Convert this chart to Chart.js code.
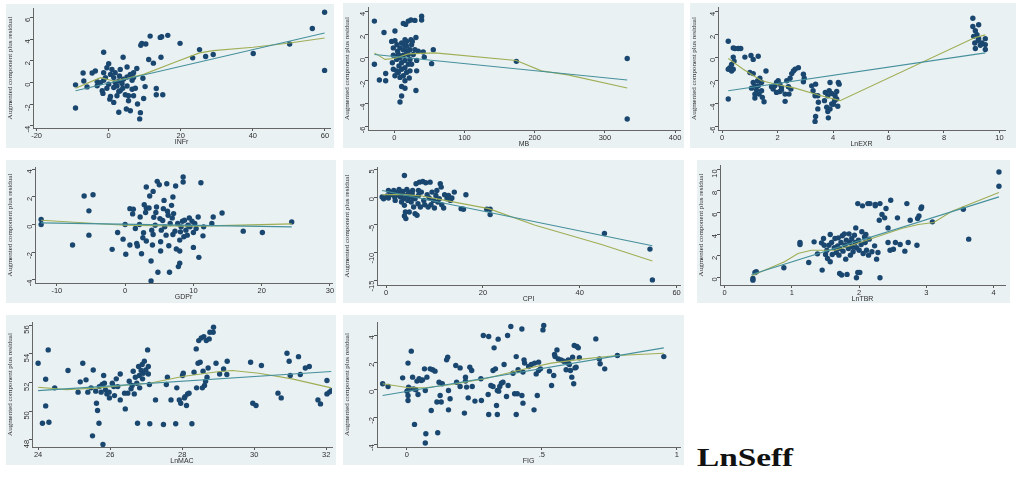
<!DOCTYPE html>
<html>
<head>
<meta charset="utf-8">
<script src="https://cdn.jsdelivr.net/npm/chart.js@4.4.1/dist/chart.umd.min.js"></script>
<style>
  body { margin: 0; background: #fff; width: 1019px; height: 477px; position: relative; overflow: hidden; }
  .panel { position: absolute; background: #eaf1f3; }
  .panel canvas { position: absolute; left: 0; top: 0; }
  #seff { position: absolute; left: 697px; top: 443px; font: bold 26px "Liberation Serif", "Times New Roman", serif; color: #111; transform: scaleX(1.28); transform-origin: left top; }
</style>
</head>
<body>
<div id="seff">LnSeff</div>
<script>
// ---- data ----
const infrXTicks = [-20, 0, 20, 40, 60];
const infrYTicks = [-4, -2, 0, 2, 4, 6];
const infrPoints = [
  [59.9, 6.5], [56.5, 5.0], [50.2, 3.57], [59.9, 1.13], [40.1, 2.69], [25.2, 3.05], [23.3, 2.29], [26.9, 2.41],
  [29, 2.6], [19.8, 3.63], [16.4, 4.37], [14.7, 4.24], [14.3, 4.18], [11.5, 4.3], [9.2, 3.63], [10.3, 3.57],
  [8.9, 3.45], [14.5, 2.35], [11.1, 2.14], [12.4, 1.8], [4.0, 2.35], [-1.4, 2.81], [0, 1.74], [-3.7, 1.07],
  [-7.1, 0.89], [-4.6, 0.89], [-6.9, 0.15], [-9.2, -0.21], [-9.2, -2.35], [-6, -0.4], [-3.2, 0.09], [-2.3, 0],
  [-1.8, -0.76], [-1.6, -1.0], [-0.5, -0.52], [0.5, -1.28], [0.3, -1.53], [1.4, -1.83], [2.8, -2.75], [4.9, -2.44],
  [6, -2.6], [8.6, -3.36], [8.8, -2.78], [8, -1.98], [9.7, -1.47], [13.2, -1.13], [15, -1.13], [13.2, -0.55],
  [10.1, -0.37], [9.5, 0.4], [7.8, 1.31], [6.9, 0.92], [5.1, 1.44], [3.2, 1.22], [0.9, 1.22], [-0.5, 1.37],
  [-1.4, 0.92], [-0.9, 0.46], [1.4, 0.46], [2.8, 0.15], [3.7, -0.09], [4.1, 0.31], [1.8, 0], [2.3, -0.31],
  [5.1, -0.31], [6.5, -0.61], [7.4, -0.52], [3.2, -0.76], [4.6, -1.13], [5.5, -1.22], [2.3, -1.22], [6.9, -1.22],
  [3.9, -0.52], [0.5, 0.76], [1.8, 0.92], [6, 0.76], [6.9, 0.46], [5.1, 0.52], [3.0, 0.61], [1.4, -0.46],
  [0, -0.15], [-1.4, 0.21], [-3.2, -0.3], [2.8, -0.82], [5.5, -1.68], [6.5, 0.21]
];
const infrFit = [[-9.2, -0.76], [59.9, 4.58]];
const infrLowess = [[-9.2, -0.52], [-2.3, 0.46], [1.4, 0.15], [5.1, 0.4], [9.7, 0.76], [18, 1.83], [25.2, 2.75],
  [29, 2.96], [40.1, 3.27], [50.2, 3.66], [59.9, 4.12]];

const mbXTicks = [0, 100, 200, 300, 400];
const mbYTicks = [-6, -4, -2, 0, 2, 4];
const mbPoints = [
  [-28.4, 3.2], [-28.4, -0.57], [-21.3, -1.94], [-12.3, -1.37], [-12.3, -2.0], [-14.7, 2.2], [0.9, 2.34], [12.8, 3.0],
  [16.1, 2.91], [19.9, 3.2], [23.7, 3.29], [29.4, 3.26], [38.9, 3.63], [38.9, 3.29], [30.8, 1.77], [23.7, 1.57],
  [55.5, 0.71], [41.2, 0.51], [42.7, 0.06], [53.1, -0.51], [31.8, -0.23], [31.8, -1.14], [30.8, -2.86], [15.2, -2.66],
  [10.4, -2.51], [10.4, -3.34], [8.1, -3.86], [173.9, -0.31], [331.8, -0.06], [331.8, -5.34], [-3.8, 1.43], [0.9, 1.49],
  [-1.4, 0.86], [-1.4, 0.23], [-2.8, -0.43], [-1.4, -1.0], [0.9, -1.57], [8.1, -1.71], [5.7, -1.29], [6.6, -0.71],
  [10.4, -0.43], [15.2, -0.86], [17.5, -1.29], [22.3, -1.14], [24.6, -0.57], [22.3, -0.14], [27, 0.29], [29.4, 0.71],
  [34.1, 0.57], [24.6, 1.14], [17.5, 1.43], [15.2, 1.57], [10.4, 1.29], [8.1, 0.86], [12.8, 0.71], [17.5, 0.57],
  [19.9, 0.29], [12.8, 0.23], [5.7, 0.29], [3.3, -0.14], [15.2, -0.23], [19.9, -0.57], [10.4, -1.0], [3.3, -1.14],
  [17.5, 1.0], [22.3, 0.71], [8.1, 0], [15.2, -2.0], [21.3, -1.77], [12.8, -1.57], [4.7, 0.57], [25.6, 1.43],
  [14.2, 1.14], [3.8, 1.14]
];
const mbFit = [[-28.4, 0.29], [331.8, -1.94]];
const mbLowess = [[-28.4, 0.43], [-13.3, -0.14], [0, -0.06], [19.9, 0.34], [57.8, 0.43], [173.9, -0.23],
  [209.5, -1.14], [247.4, -1.49], [331.8, -2.63]];

const lnexrXTicks = [0, 2, 4, 6, 8, 10];
const lnexrYTicks = [-6, -4, -2, 0, 2, 4];
const lnexrPoints = [
  [0.22, 1.44], [0.22, -3.6], [0.4, 0.86], [0.46, 0.81], [0.58, 0.81], [0.67, 0.81], [0.4, 0.06], [0.43, -0.29],
  [0.34, -0.58], [0.28, -0.86], [0.34, -1.15], [0.22, -1.0], [0.4, -1.0], [0.82, 0.06], [1.04, 0.2], [1.12, -0.14],
  [1.3, 0.14], [1.0, -1.29], [1.12, -1.38], [1.58, -1.15], [1.36, -1.78], [1.12, -2.16], [1.18, -2.45], [1.24, -2.82],
  [1.18, -3.17], [1.18, -3.51], [1.33, -3.17], [1.42, -2.88], [1.45, -3.45], [1.51, -3.83], [1.3, -2.45], [1.42, -2.16],
  [1.28, -2.01], [1.06, -2.65], [1.84, -2.73], [1.9, -2.45], [1.96, -2.16], [2.02, -2.01], [2.08, -2.3], [2.14, -2.59],
  [2.08, -2.94], [1.96, -3.02], [2.27, -3.17], [2.27, -3.8], [2.39, -2.53], [2.48, -2.73], [2.41, -3.17], [2.33, -2.01],
  [2.45, -1.78], [2.51, -1.38], [2.57, -1.15], [2.63, -1.0], [2.75, -0.86], [2.93, -1.44], [2.96, -1.78], [2.93, -2.1],
  [1.78, -2.53], [2.14, -2.82], [3.23, -2.45], [3.37, -2.3], [3.28, -2.88], [3.35, -3.31], [3.45, -3.31], [3.47, -3.88],
  [3.45, -4.46], [3.37, -5.12], [3.35, -5.55], [3.69, -3.74], [3.77, -4.32], [3.81, -4.69], [3.83, -5.24], [3.89, -4.46],
  [3.95, -4.03], [3.81, -3.31], [3.86, -2.88], [3.95, -3.11], [4.07, -3.31], [4.13, -3.6], [4.17, -4.23], [4.01, -4.06],
  [3.89, -2.16], [4.19, -2.16], [4.22, -2.3], [4.13, -2.94], [3.72, -3.02], [4.05, -3.74], [9.04, 3.45], [9.25, 2.88],
  [9.04, 2.73], [9.13, 2.36], [9.19, 2.01], [9.07, 1.87], [9.25, 1.67], [9.11, 1.29], [9.37, 1.29], [9.49, 1.67],
  [9.31, 1.09], [9.13, 0.81], [9.49, 1.15], [9.49, 0.72], [9.23, 1.5]
];
const lnexrFit = [[0.22, -2.88], [9.49, 0.43]];
const lnexrLowess = [[0.22, -0.06], [0.76, -1.0], [1.42, -2.01], [2.02, -2.36], [2.63, -2.65], [3.47, -3.25],
  [4.25, -3.74], [9.1, 1.75], [9.49, 2.0]];

const gdprXTicks = [-10, 0, 10, 20, 30];
const gdprYTicks = [-4, -2, 0, 2, 4];
const gdprPoints = [
  [-12.3, 0.36], [-12.3, 0], [-7.7, -1.49], [-6, 2.07], [-4.7, 2.16], [-5.3, 0.99], [-5.3, -0.77], [-1.9, -1.8],
  [-1.1, -0.58], [-0.3, -1.06], [0, 0], [0.1, -2.16], [0.7, -1.49], [0.7, 1.15], [1.2, 1.11], [1.1, 0.77],
  [1.5, -0.29], [1.7, -1.37], [1.8, -1.56], [2.1, 0], [2.2, 0.55], [2.4, -2.12], [2.6, -0.96], [2.7, -0.6],
  [2.8, 1.44], [3.1, 1.2], [3.0, 0.87], [3.1, 2.72], [3.1, -1.2], [3.6, 2.07], [3.5, 1.2], [3.8, -2.64],
  [3.8, -4.09], [3.9, -0.41], [4.0, -1.49], [4.1, -0.72], [4.2, 0.53], [4.4, -0.05], [4.5, 0.87], [4.6, 1.27],
  [4.7, 3.13], [4.8, -3.46], [5.0, 2.88], [5.1, 0.43], [5.2, -1.25], [5.2, -1.92], [5.3, -0.41], [5.5, 0.29],
  [5.6, 1.15], [5.7, 1.75], [5.8, -0.17], [6.0, -0.77], [6.1, 2.96], [6.2, 0.96], [6.3, 0.67], [6.4, -1.54],
  [6.5, -3.46], [6.6, 0.07], [6.8, 1.39], [6.9, 0.48], [7.0, -0.72], [7.1, 0.79], [7.3, -0.48], [7.4, 2.79],
  [7.5, -1.78], [7.7, 0.07], [7.8, -3.05], [8.0, -2.81], [8.0, -1.92], [8.0, -1.13], [8.1, -0.53], [8.2, -0.17],
  [8.4, 0.24], [8.5, 3.44], [8.5, 3.08], [8.6, -0.89], [8.7, 0.31], [8.9, -0.41], [9.1, -0.77], [9.2, -0.05],
  [9.4, 0.48], [9.5, -0.17], [9.8, 0.24], [10.0, -0.58], [10.0, -1.66], [10.2, 0.07], [10.4, -0.29], [10.7, 0.55],
  [10.8, -2.38], [11.1, 3.03], [11.4, -0.82], [11.5, -0.17], [12.7, 0.07], [12.9, 0.55], [14.2, 0.84], [17.3, -0.48],
  [20.1, -0.58], [24.4, 0.19], [7.0, 2.0], [4.1, 2.4]
];
const gdprFit = [[-12.3, 0.12], [24.4, -0.17]];
const gdprLowess = [[-12.3, 0.31], [0, -0.05], [6.1, -0.1], [10.9, -0.12], [24.4, 0.05]];

const cpiXTicks = [0, 20, 40, 60];
const cpiYTicks = [-15, -10, -5, 0, 5];
const cpiPoints = [
  [3.8, 3.87], [-0.8, 0], [-0.5, -0.3], [0.2, 0.18], [0.5, -0.18], [0.9, 0.42], [1.2, 0.77], [1.6, 1.19],
  [1.8, 0], [1.9, -0.6], [2.3, 0.42], [2.5, 0.89], [2.7, 1.37], [3.0, 0], [3.2, -0.89], [3.3, 0.6],
  [3.5, 1.01], [3.6, -0.3], [3.8, -1.49], [4.0, -2.68], [3.8, -3.39], [4.1, -3.87], [4.3, 1.37], [4.3, 0.3],
  [4.5, -0.6], [4.7, 0.89], [4.8, -2.68], [5.0, 0], [5.2, -0.89], [5.4, 0.6], [5.5, 1.19], [5.7, -1.79],
  [6.0, -0.3], [6.0, -2.98], [6.2, 2.38], [6.4, -3.27], [6.6, -1.19], [6.7, 0.3], [6.9, 2.68], [7.1, -1.79],
  [7.3, 0.89], [7.6, 2.8], [7.8, -0.6], [8.0, -1.37], [8.2, 2.56], [8.5, 0.42], [8.7, -1.79], [8.9, -0.18],
  [9.1, 2.68], [9.3, -1.37], [9.5, 0.89], [9.8, -0.6], [10.0, -1.96], [10.3, 0.3], [10.5, 1.19], [10.7, -0.89],
  [11.0, -0.3], [11.2, 2.38], [11.4, 1.79], [11.5, -1.37], [11.9, -1.96], [12.1, 0.42], [12.6, -0.3], [12.9, 0.3],
  [13.3, -0.6], [13.6, -0.18], [14.1, 0.89], [15.5, -2.08], [16.0, -2.2], [16.5, 0.42], [20.8, -2.2], [21.5, -2.2],
  [21.5, -3.15], [45.1, -6.55], [54.5, -9.35], [55.0, -14.88], [0.5, 1.19], [1.9, 0.3], [5.7, -0.18], [6.7, 1.19]
];
const cpiFit = [[-0.8, 1.19], [55.0, -8.75]];
const cpiLowess = [[-0.8, 0.42], [3.3, 0.48], [7.4, 0.18], [12.2, -0.6], [21.2, -2.08], [30.8, -5.06],
  [44.5, -8.51], [55.0, -11.5]];

const lntbrXTicks = [0, 1, 2, 3, 4];
const lntbrYTicks = [0, 2, 4, 6, 8, 10];
const lntbrPoints = [
  [0.42, -0.09], [0.42, -0.25], [0.45, 0.46], [0.47, 0.52], [0.88, 0.89], [1.12, 3.23], [1.12, 3.05], [1.25, 1.38],
  [1.33, 3.29], [1.38, 2.18], [1.44, 3.2], [1.45, 0.68], [1.47, 3.6], [1.48, 2.98], [1.5, 2.12], [1.52, 2.52],
  [1.53, 1.75], [1.55, 2.98], [1.57, 3.97], [1.57, 1.45], [1.59, 3.23], [1.6, 2.12], [1.63, 2.74], [1.64, 3.6],
  [1.66, 2.31], [1.68, 2.92], [1.69, 3.66], [1.7, 2.06], [1.71, 0.37], [1.71, 2.68], [1.73, 3.23], [1.74, 0.22],
  [1.75, 3.85], [1.76, 2.43], [1.78, 4.03], [1.79, 2.98], [1.8, 1.69], [1.81, 3.45], [1.82, 0.28], [1.84, 2.68],
  [1.85, 4.03], [1.86, 3.23], [1.87, 2.06], [1.89, 3.6], [1.9, 2.83], [1.91, 2.37], [1.93, 3.91], [1.94, 3.23],
  [1.95, 4.58], [1.96, -0.03], [1.96, 2.74], [1.98, 0.46], [1.98, 6.83], [1.99, 3.45], [2.0, 2.52], [2.01, 0.46],
  [2.03, 3.05], [2.04, 4.22], [2.05, 6.62], [2.06, 2.22], [2.08, 3.75], [2.09, 3.23], [2.1, 3.97], [2.11, 2.52],
  [2.13, 6.83], [2.14, 2.06], [2.15, 3.54], [2.16, 6.83], [2.19, 2.37], [2.23, 2.92], [2.24, 6.74], [2.24, 6.62],
  [2.26, 1.69], [2.28, 2.31], [2.3, 5.29], [2.31, -0.03], [2.31, 6.83], [2.34, 5.82], [2.38, 5.51], [2.4, 6.37],
  [2.43, 4.58], [2.43, 3.23], [2.46, 2.52], [2.47, 7.14], [2.51, 2.61], [2.54, 3.23], [2.57, 5.51], [2.61, 3.05],
  [2.68, 2.43], [2.71, 6.83], [2.73, 3.23], [2.76, 5.29], [2.86, 2.98], [2.87, 5.45], [2.89, 5.69], [2.92, 6.37],
  [2.93, 6.52], [3.09, 5.14], [3.55, 6.31], [3.63, 3.54], [4.08, 9.75], [4.08, 8.43]
];
const lntbrFit = [[0.4, 0.28], [4.08, 7.45]];
const lntbrLowess = [[0.4, 0.15], [0.89, 1.45], [1.09, 2.22], [1.29, 2.52], [1.64, 2.52], [1.89, 2.98], [2.19, 3.6],
  [2.63, 4.52], [2.88, 4.89], [3.11, 5.08], [3.38, 6.12], [4.08, 7.85]];

const lnmacXTicks = [24, 26, 28, 30, 32];
const lnmacYTicks = [48, 50, 52, 54, 56];
const lnmacPoints = [
  [24.0, 53.35], [24.12, 49.16], [24.21, 52.23], [24.21, 50.37], [24.28, 54.28], [24.3, 49.23], [24.46, 51.63], [24.83, 52.84],
  [25.11, 51.33], [25.17, 52.05], [25.24, 53.35], [25.33, 52.19], [25.38, 51.33], [25.47, 51.63], [25.51, 48.28], [25.53, 52.88],
  [25.6, 51.4], [25.62, 50.56], [25.65, 50.05], [25.69, 49.16], [25.7, 51.72], [25.75, 51.33], [25.78, 51.86], [25.8, 47.67],
  [25.82, 52.49], [25.84, 51.95], [25.87, 51.49], [25.91, 51.21], [25.97, 51.33], [25.98, 50.93], [26.06, 51.95], [26.1, 51.72],
  [26.12, 51.09], [26.17, 52.26], [26.21, 51.72], [26.28, 52.6], [26.28, 50.79], [26.4, 51.26], [26.42, 50.16], [26.49, 51.26],
  [26.53, 52.09], [26.58, 51.56], [26.61, 51.79], [26.64, 52.79], [26.67, 51.21], [26.7, 52.37], [26.74, 51.95], [26.76, 49.16],
  [26.79, 53.12], [26.81, 52.49], [26.82, 51.63], [26.86, 52.84], [26.89, 53.26], [26.9, 52.26], [26.92, 52.65], [26.95, 53.49],
  [26.99, 52.88], [27.04, 54.28], [27.06, 52.6], [27.06, 53.12], [27.09, 51.86], [27.1, 49.12], [27.26, 50.79], [27.48, 49.07],
  [27.56, 51.86], [27.59, 52.37], [27.69, 50.79], [27.82, 49.12], [27.85, 51.63], [27.92, 50.79], [27.96, 50.56], [28.01, 52.49],
  [28.03, 52.65], [28.06, 50.93], [28.08, 51.02], [28.12, 50.4], [28.15, 51.21], [28.19, 51.26], [28.27, 49.12], [28.33, 52.72],
  [28.39, 54.35], [28.4, 51.63], [28.44, 53.35], [28.46, 54.93], [28.5, 53.42], [28.53, 55.12], [28.56, 51.63], [28.58, 52.79],
  [28.6, 55.21], [28.62, 51.79], [28.65, 52.09], [28.67, 54.93], [28.69, 52.37], [28.72, 53.02], [28.75, 55.05], [28.77, 55.51],
  [28.86, 55.51], [28.87, 55.86], [28.94, 53.35], [29.04, 52.6], [29.15, 52.95], [29.24, 52.56], [29.25, 53.49], [29.9, 53.42],
  [29.96, 50.56], [30.05, 50.4], [30.2, 53.19], [30.66, 51.26], [30.75, 50.93], [30.91, 54.05], [30.97, 53.49], [31.0, 52.49],
  [31.23, 53.81], [31.28, 52.56], [31.42, 53.02], [31.53, 53.12], [31.77, 50.79], [31.84, 50.51], [32.02, 52.14], [32.02, 51.21],
  [32.09, 51.33], [32.14, 51.44]
];
const lnmacFit = [[24.0, 51.44], [32.14, 52.77]];
const lnmacLowess = [[24.0, 51.67], [24.78, 51.51], [25.7, 51.63], [26.63, 51.86], [27.09, 51.95], [28.01, 52.42],
  [28.93, 52.74], [29.39, 52.84], [30.13, 52.65], [31.05, 52.26], [32.14, 51.63]];

const figXTicks = [0, 0.5, 1];
const figYTicks = [-4, -2, 0, 2, 4];
const figPoints = [
  [-0.09, 0.44], [-0.07, 0.24], [-0.016, 0.88], [0.004, 1.96], [0.0, -0.1], [0.004, -0.42], [0.004, -0.78], [0.006, 0.2],
  [0.012, 0.07], [0.016, 2.84], [0.021, 0.93], [0.025, 0.07], [0.028, -2.54], [0.033, 0], [0.037, 0.64], [0.041, -0.34],
  [0.045, 0.81], [0.053, 0.68], [0.058, 0.73], [0.065, 1.54], [0.068, -0.05], [0.07, -3.23], [0.068, -3.91], [0.074, 0.93],
  [0.086, 1.54], [0.09, -1.52], [0.095, 1.47], [0.104, 1.37], [0.111, -0.9], [0.114, -3.15], [0.119, 0.56], [0.123, -0.42],
  [0.127, -0.9], [0.131, 0.44], [0.147, 2.2], [0.151, 2.4], [0.154, -0.05], [0.154, -1.47], [0.16, -0.66], [0.181, 1.78],
  [0.184, 0.56], [0.197, 1.61], [0.197, 0.24], [0.213, -1.71], [0.217, 0.93], [0.217, 0.64], [0.221, 0.2], [0.227, -0.59],
  [0.233, 1.66], [0.24, 1.42], [0.242, 0.24], [0.252, -0.83], [0.274, 0.81], [0.276, -0.78], [0.283, 3.99], [0.303, 3.91],
  [0.301, -0.34], [0.303, -1.81], [0.311, 0.32], [0.319, 1.42], [0.319, 0.24], [0.323, 3.08], [0.328, 1.54], [0.332, -1.15],
  [0.335, -1.81], [0.335, -0.05], [0.338, 3.72], [0.34, -0.1], [0.344, 0.24], [0.35, 0.49], [0.356, 0.56], [0.36, 1.86],
  [0.369, -0.49], [0.373, 3.99], [0.375, 0.32], [0.385, 4.65], [0.393, 1.22], [0.399, -0.29], [0.405, 2.44], [0.405, -1.81],
  [0.409, -0.29], [0.412, 1.47], [0.426, -0.42], [0.426, 4.47], [0.43, 1.3], [0.43, -0.98], [0.434, 2.2], [0.436, 1.96],
  [0.451, 1.71], [0.461, 1.86], [0.471, -1.47], [0.473, 1.96], [0.479, 1.17], [0.483, -0.42], [0.488, 1.42], [0.488, 2.03],
  [0.495, 1.54], [0.504, 4.4], [0.507, 4.72], [0.528, 1.37], [0.536, 0.32], [0.544, 1.05], [0.547, 2.59], [0.549, 2.44],
  [0.556, 2.93], [0.561, 2.27], [0.571, 2.2], [0.581, 2.1], [0.59, 1.47], [0.596, 1.96], [0.602, 1.86], [0.606, 1.42],
  [0.611, 0.93], [0.614, 2.4], [0.618, 0.44], [0.62, 3.25], [0.623, 1.61], [0.627, 1.66], [0.63, 3.18], [0.635, 3.08],
  [0.639, 2.35], [0.7, 3.74], [0.713, 2.27], [0.716, 1.91], [0.733, 1.54], [0.78, 2.52], [0.952, 2.44], [0.598, 2.2]
];
const figFit = [[-0.09, -0.42], [0.952, 3.08]];
const figLowess = [[-0.09, 0.44], [0.006, 0.15], [0.068, 0.15], [0.166, 0.39], [0.289, 0.81], [0.412, 1.42],
  [0.535, 1.96], [0.657, 2.27], [0.78, 2.52], [0.952, 2.69]];

// ---- layout of the eight panels (page pixels) ----
const panels = [
  { box: [6, 4, 334, 148], plot: [33, 7, 330, 128], x: [-21, 61.4], y: [-4.2, 6.9], xTicks: infrXTicks, yTicks: infrYTicks, title: "INFr", points: infrPoints, fit: infrFit, lowess: infrLowess },
  { box: [343, 3, 684, 148], plot: [368, 5, 680, 130], x: [-37.5, 407], y: [-6.3, 4.43], xTicks: mbXTicks, yTicks: mbYTicks, title: "MB", points: mbPoints, fit: mbFit, lowess: mbLowess },
  { box: [690, 3, 1016, 148], plot: [718, 5, 1005, 130], x: [-0.15, 10.2], y: [-6.3, 4.43], xTicks: lnexrXTicks, yTicks: lnexrYTicks, title: "LnEXR", points: lnexrPoints, fit: lnexrFit, lowess: lnexrLowess },
  { box: [6, 160, 336, 303], plot: [35, 167, 333, 283], x: [-13.2, 30.3], y: [-4.24, 4.17], xTicks: gdprXTicks, yTicks: gdprYTicks, title: "GDPr", points: gdprPoints, fit: gdprFit, lowess: gdprLowess },
  { box: [343, 160, 684, 303], plot: [377, 167, 680, 285], x: [-1.86, 60.7], y: [-15.8, 5.4], xTicks: cpiXTicks, yTicks: cpiYTicks, title: "CPI", points: cpiPoints, fit: cpiFit, lowess: cpiLowess },
  { box: [697, 160, 1010, 303], plot: [720, 165, 1005, 285], x: [-0.07, 4.17], y: [-0.7, 10.4], xTicks: lntbrXTicks, yTicks: lntbrYTicks, title: "LnTBR", points: lntbrPoints, fit: lntbrFit, lowess: lntbrLowess },
  { box: [6, 315, 336, 465], plot: [32, 322, 333, 447], x: [23.83, 32.16], y: [47.5, 56.23], xTicks: lnmacXTicks, yTicks: lnmacYTicks, title: "LnMAC", points: lnmacPoints, fit: lnmacFit, lowess: lnmacLowess },
  { box: [343, 315, 684, 465], plot: [377, 322, 680, 447], x: [-0.111, 1.012], y: [-4.2, 4.98], xTicks: figXTicks, yTicks: figYTicks, title: "FIG", points: figPoints, fit: figFit, lowess: figLowess }
];

const X_AXIS_H = 18;
const toXY = (arr) => arr.map(([x, y]) => ({ x, y }));
// Stata style numbers: .5 instead of 0.5
const fmt = (v) => String(v).replace(/^(-?)0\./, "$1.");

function drawPanel(p) {
  const [bl, bt, br, bb] = p.box;
  const [pl, pt, pr, pb] = p.plot;
  const div = document.createElement("div");
  div.className = "panel";
  div.style.left = bl + "px";
  div.style.top = bt + "px";
  div.style.width = (br - bl) + "px";
  div.style.height = (bb - bt) + "px";
  const canvas = document.createElement("canvas");
  canvas.width = br - bl;
  canvas.height = bb - bt;
  div.appendChild(canvas);
  document.body.appendChild(div);

  new Chart(canvas.getContext("2d"), {
    type: "scatter",
    data: {
      datasets: [
        { data: toXY(p.fit), showLine: true, borderColor: "#45909c", borderWidth: 1.1, pointRadius: 0, fill: false },
        { data: toXY(p.lowess), showLine: true, borderColor: "#9fae55", borderWidth: 1.1, pointRadius: 0, fill: false },
        { data: toXY(p.points), backgroundColor: "#1a476f", borderColor: "#1a476f", pointRadius: 2.7, pointBorderWidth: 0 }
      ]
    },
    options: {
      responsive: false,
      animation: false,
      layout: { padding: { left: 0, top: pt - bt, right: br - pr, bottom: bb - pb - X_AXIS_H } },
      plugins: { legend: { display: false }, tooltip: { enabled: false } },
      scales: {
        x: {
          type: "linear",
          min: p.x[0],
          max: p.x[1],
          afterBuildTicks: (s) => { s.ticks = p.xTicks.map((v) => ({ value: v })); },
          afterFit: (s) => { s.height = X_AXIS_H; s.paddingLeft = 0; s.paddingRight = 0; },
          grid: { drawOnChartArea: false, tickLength: 3, tickColor: "#555" },
          border: { color: "#666", width: 1 },
          ticks: { color: "#2e2e2e", font: { size: 7.5, family: "Liberation Sans" }, padding: 0, maxRotation: 0, callback: (v) => fmt(v) },
          title: { display: true, text: p.title, color: "#2e2e2e", font: { size: 7, family: "Liberation Sans" }, padding: { top: 0, bottom: 0 } }
        },
        y: {
          type: "linear",
          min: p.y[0],
          max: p.y[1],
          afterBuildTicks: (s) => { s.ticks = p.yTicks.map((v) => ({ value: v })); },
          afterFit: (s) => { s.width = pl - bl; s.paddingTop = 0; s.paddingBottom = 0; },
          grid: { color: "#e9f0f2", tickLength: 3, tickColor: "#555" },
          border: { color: "#666", width: 1 },
          ticks: { color: "#2e2e2e", font: { size: 7.5, family: "Liberation Sans" }, padding: 2, minRotation: 90, maxRotation: 90, callback: (v) => fmt(v) },
          title: { display: true, text: "Augmented component plus residual", color: "#2e2e2e", font: { size: 7, family: "Liberation Sans Narrow" }, padding: { top: 0, bottom: 1 } }
        }
      }
    }
  });
}

panels.forEach(drawPanel);
</script>
</body>
</html>
